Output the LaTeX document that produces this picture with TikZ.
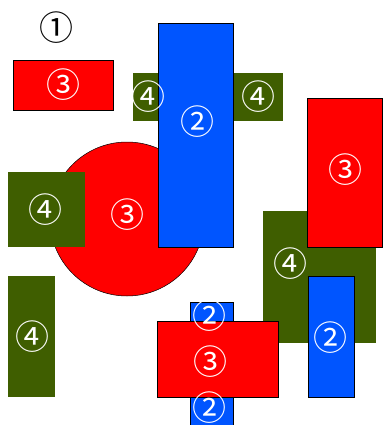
\documentclass[tikz,border=0pt]{standalone}
\usepackage{fontspec}
\newfontfamily\sym{Noto Sans CJK JP}
\definecolor{cred}{RGB}{255,0,0}
\definecolor{cblue}{RGB}{0,85,255}
\definecolor{cgreen}{RGB}{63,94,0}
\tikzset{
  box/.style={rectangle, inner sep=0pt, outer sep=0pt},
  redbox/.style={box, fill=cred, draw=black, line width=0.5pt},
  bluebox/.style={box, fill=cblue, draw=black, line width=0.5pt},
  greenbox/.style={box, fill=cgreen},
  lbl/.style={text=white, font=\sym\fontsize{34}{34}\selectfont, inner sep=0pt},
}
\begin{document}
\begin{tikzpicture}[x=1pt,y=-1pt]
\useasboundingbox (0,0) rectangle (384,425);
\fill[white] (0,0) rectangle (384,425);
% shapes
\node[circle, fill=cred, draw=black, line width=0.5pt, minimum size=154pt, inner sep=0pt] (circ) at (127,219) {};
\node[redbox, minimum width=100pt, minimum height=50pt] (r1) at (63,85) {};
\node[greenbox, minimum width=27pt, minimum height=48pt] (g1) at (146,97) {};
\node[greenbox, minimum width=50pt, minimum height=48pt] (g2) at (258,97) {};
\node[bluebox, minimum width=75pt, minimum height=224pt] (b1) at (195.5,135) {};
\node[greenbox, minimum width=77pt, minimum height=75pt] (g3) at (46.5,209.5) {};
\node[greenbox, minimum width=47pt, minimum height=121pt] (g4) at (31.5,336.5) {};
\node[greenbox, minimum width=113pt, minimum height=132pt] (g5) at (319.5,277) {};
\node[redbox, minimum width=75pt, minimum height=149pt] (r2) at (345,172.5) {};
\node[bluebox, minimum width=46pt, minimum height=121pt] (b2) at (331,337) {};
\node[bluebox, minimum width=43pt, minimum height=20pt] (b3) at (211.5,312) {};
\node[bluebox, minimum width=43pt, minimum height=28pt] (b4) at (211.5,411) {};
\node[redbox, minimum width=121pt, minimum height=76pt] (r3) at (218,359) {};
% labels
\node[lbl, text=black] (l1) at (56,28) {①};
\node[lbl] (lr1) at (63,85) {③};
\node[lbl] (lg1) at (148,97) {④};
\node[lbl] (lg2) at (258,97) {④};
\node[lbl] (lb1) at (197,122) {②};
\node[lbl] (lc) at (127,215) {③};
\node[lbl] (lg3) at (45,210) {④};
\node[lbl] (lg4) at (33,337) {④};
\node[lbl] (lr2) at (345,170) {③};
\node[lbl] (lg5) at (290,264) {④};
\node[lbl] (lb2) at (330,338) {②};
\node[lbl] (lb3) at (209,316) {②};
\node[lbl] (lr3) at (210,362) {③};
\node[lbl] (lb4) at (209,408) {②};
\end{tikzpicture}
\end{document}
